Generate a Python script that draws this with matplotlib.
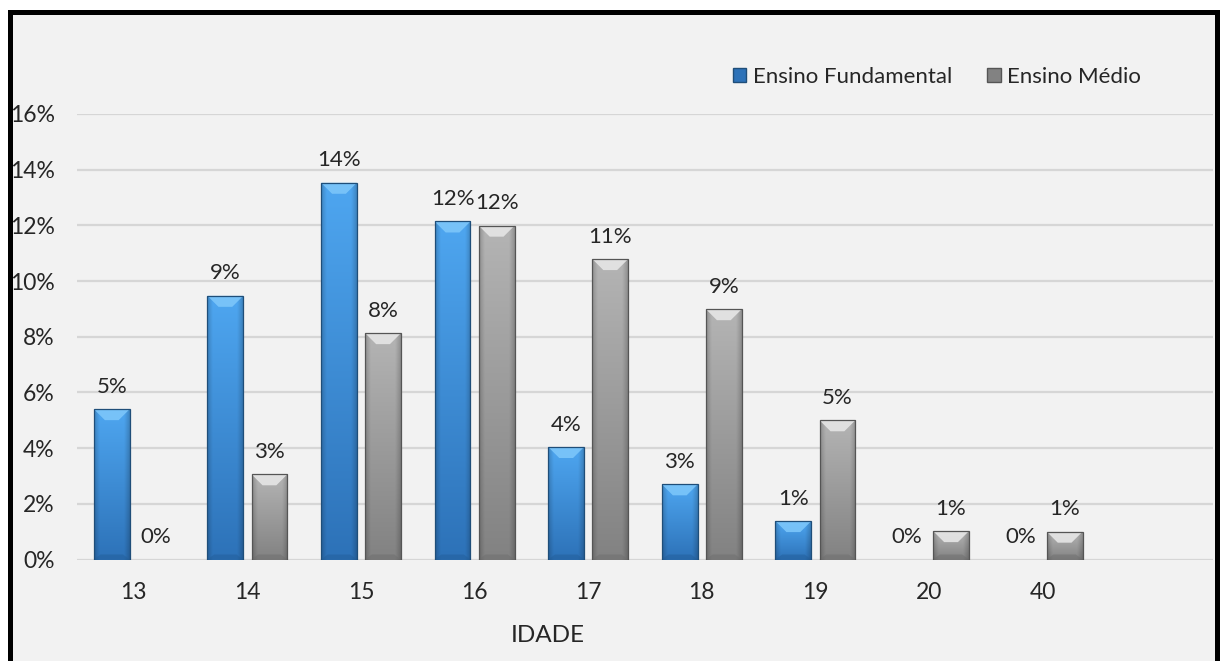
import numpy as np
import matplotlib.pyplot as plt
from matplotlib.patches import Rectangle, Polygon, Patch
from matplotlib.colors import to_rgb

plt.rcParams['font.family'] = ['Lato', 'DejaVu Sans']

idades = ['13', '14', '15', '16', '17', '18', '19', '20', '40']
fundamental = [5.4, 9.47, 13.53, 12.14, 4.04, 2.7, 1.38, 0.0, 0.0]
medio = [0.0, 3.06, 8.13, 11.99, 10.79, 8.99, 5.0, 1.02, 1.0]
series_names = ['Ensino Fundamental', 'Ensino Médio']
yticks = [0, 2, 4, 6, 8, 10, 12, 14, 16]

W, H = 1221, 661
fig = plt.figure(figsize=(W / 100, H / 100), dpi=100, facecolor='white')

# black frame around the chart area
frame = Rectangle((9.5 / W, -0.05), (1217 - 9.5) / W, 1 - 12.5 / H + 0.05,
                  transform=fig.transFigure, facecolor='#f2f2f2',
                  edgecolor='black', linewidth=3.6, zorder=0)
fig.add_artist(frame)

ax = fig.add_axes([77 / W, 1 - 559.5 / H, (1213 - 77) / W, (559.5 - 114) / H])
ax.set_facecolor('none')

styles = {
    'Ensino Fundamental': dict(top='#4ea6f0', bottom='#2d72b8', cap='#7cc6fa',
                               base='#235e99', edge='#1f4e79'),
    'Ensino Médio': dict(top='#b4b4b4', bottom='#828282', cap='#e6e6e6',
                         base='#6e6e6e', edge='#555555'),
}

bar_w = 0.315
offset = 0.194
px_x = 1 / 113.6   # data units per pixel, horizontally
px_y = 1 / 27.84   # data units per pixel, vertically


def bevel_bar(x, h, st):
    if h <= 0:
        return
    x0, x1 = x - bar_w / 2, x + bar_w / 2
    t = np.linspace(0, 1, 64)[:, None]
    s = np.linspace(-1, 1, 32)[None, :]
    top, bot = np.array(to_rgb(st['top'])), np.array(to_rgb(st['bottom']))
    img = top[None, None, :] * (1 - t[..., None]) + bot[None, None, :] * t[..., None]
    shade = 1 - 0.18 * np.clip((np.abs(s) - 0.7) / 0.3, 0, 1)
    img = img * shade[..., None]
    ax.imshow(np.clip(img, 0, 1), extent=[x0, x1, 0, h], origin='upper',
              aspect='auto', interpolation='bilinear', zorder=2)
    dx = 11 * px_x
    dy = min(11 * px_y, h / 2.2)
    ax.add_patch(Polygon([(x0, h), (x1, h), (x1 - dx, h - dy), (x0 + dx, h - dy)],
                         closed=True, facecolor=st['cap'], edgecolor='none',
                         alpha=0.9, zorder=3))
    dyb = min(5 * px_y, h / 4)
    ax.add_patch(Polygon([(x0, 0), (x1, 0), (x1 - dx * 0.6, dyb), (x0 + dx * 0.6, dyb)],
                         closed=True, facecolor=st['base'], edgecolor='none',
                         alpha=0.5, zorder=3))
    ax.add_patch(Rectangle((x0, 0), bar_w, h, facecolor='none',
                           edgecolor=st['edge'], linewidth=0.9, zorder=4))


x = np.arange(len(idades))
for vals, name, sign in [(fundamental, series_names[0], -1), (medio, series_names[1], 1)]:
    st = styles[name]
    for xi, v in zip(x, vals):
        bevel_bar(xi + sign * offset, v, st)
        ax.annotate(f'{v:.0f}%', (xi + sign * offset, v), xytext=(0, 9),
                    textcoords='offset points', ha='center', va='bottom',
                    fontsize=16, color='#262626', zorder=5)

ax.set_xlim(-0.5, 9.5)
ax.set_ylim(0, 16)
ax.set_yticks(yticks)
ax.set_yticklabels([f'{v}%' for v in yticks])
ax.set_xticks(x)
ax.set_xticklabels(idades)
ax.tick_params(axis='both', length=0, labelsize=16.5, colors='#262626')
ax.tick_params(axis='y', pad=16)
ax.tick_params(axis='x', pad=16)
ax.grid(axis='y', color='#d6d6d6', linewidth=1.6, zorder=1)
ax.set_axisbelow(True)
for sp in ax.spines.values():
    sp.set_visible(False)

fig.text(548 / W, 1 - 635 / H, 'IDADE', ha='center', va='center',
         fontsize=17.5, color='#262626')

handles = [Patch(facecolor=styles[n]['bottom'], edgecolor=styles[n]['edge'], label=n)
           for n in series_names]
fig.legend(handles=handles, loc='center', bbox_to_anchor=(937 / W, 1 - 77 / H),
           ncol=2, frameon=False, fontsize=16, handlelength=0.6, handleheight=0.6,
           handletextpad=0.3, columnspacing=1.6, labelcolor='#262626')

fig.savefig('out.png', dpi=100, facecolor=fig.get_facecolor())
